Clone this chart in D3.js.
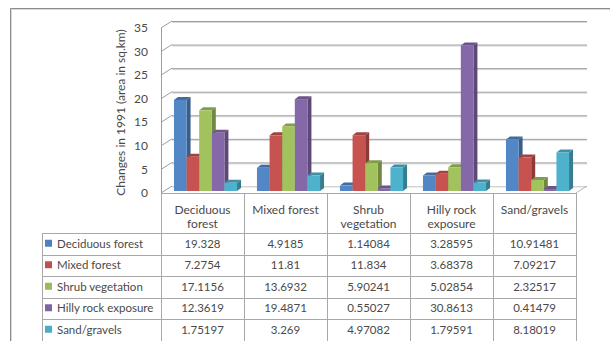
<!DOCTYPE html>
<html>
<head>
<meta charset="utf-8">
<script src="https://cdn.jsdelivr.net/npm/d3@7"></script>
<style>
  html, body { margin: 0; padding: 0; background: #fff; }
  svg { display: block; font-family: Lato, "Open Sans", sans-serif; }
</style>
</head>
<body>
<svg id="chart" width="610" height="341"></svg>
<script>
// Land-cover change categories (columns of the data table)
const categories = ["Deciduous forest", "Mixed forest", "Shrub vegetation", "Hilly rock exposure", "Sand/gravels"];
const categoryLines = [["Deciduous", "forest"], ["Mixed forest"], ["Shrub", "vegetation"], ["Hilly rock", "exposure"], ["Sand/gravels"]];

// Series (rows of the data table)
const seriesNames = ["Deciduous forest", "Mixed forest", "Shrub vegetation", "Hilly rock exposure", "Sand/gravels"];
const deciduousValues = [19.328, 4.9185, 1.14084, 3.28595, 10.91481];
const mixedValues = [7.2754, 11.81, 11.834, 3.68378, 7.09217];
const shrubValues = [17.1156, 13.6932, 5.90241, 5.02854, 2.32517];
const hillyValues = [12.3619, 19.4871, 0.55027, 30.8613, 0.41479];
const sandValues = [1.75197, 3.269, 4.97082, 1.79591, 8.18019];
const seriesValues = [deciduousValues, mixedValues, shrubValues, hillyValues, sandValues];
const seriesColors = ["#4F81BD", "#C0504D", "#9BBB59", "#8064A2", "#4BACC6"];

const yTicks = [0, 5, 10, 15, 20, 25, 30, 35];
const yTitle = "Changes in 1991 (area in sq.km)";

const svg = d3.select("#chart");
const textColor = "#4a4a4a";

// Geometry of the pseudo-3D plot box
const floorLeft = 161, floorRight = 576, floorFront = 193;
const wallDX = 11, wallDY = -7;          // front edge -> back wall offset
const barDX = 3, barDY = -2;             // front edge -> bar front face offset
const depthDX = 4, depthDY = -3;         // bar thickness

const y = d3.scaleLinear().domain([0, 35]).range([floorFront, floorFront - 165]);
const x0 = d3.scaleBand().domain(categories).range([floorLeft, floorRight]);
const gap = x0.bandwidth() * 0.12;
const x1 = d3.scaleBand().domain(seriesNames).range([gap, x0.bandwidth() - gap]);

// Outer chart border
svg.append("path").attr("d", "M10.5,341 V8.5 H610").attr("fill", "none").attr("stroke", "#8c8c8c");
svg.append("path").attr("d", "M11.5,341 V9.5 H610").attr("fill", "none").attr("stroke", "#d9d9d9");

// Gridlines on back wall plus the slanted side-wall ticks
const grid = svg.append("g");
yTicks.forEach(t => {
  const yb = y(t) + wallDY;
  const yf = y(t);
  grid.append("line").attr("x1", floorLeft + wallDX).attr("x2", floorRight + wallDX)
    .attr("y1", yb + 1.5).attr("y2", yb + 1.5).attr("stroke", t === 0 ? "#ececec" : "#dadada");
  grid.append("line").attr("x1", floorLeft + wallDX).attr("x2", floorRight + wallDX)
    .attr("y1", yb + 0.5).attr("y2", yb + 0.5).attr("stroke", t === 0 ? "#d4d4d4" : "#9d9d9d");
  grid.append("line").attr("x1", floorLeft).attr("y1", yf)
    .attr("x2", floorLeft + wallDX).attr("y2", yb).attr("stroke", "#9d9d9d");
});
// Left front edge and floor right edge
grid.append("line").attr("x1", floorLeft + 0.5).attr("x2", floorLeft + 0.5)
  .attr("y1", y(35)).attr("y2", floorFront).attr("stroke", "#9d9d9d");
grid.append("line").attr("x1", floorRight).attr("y1", floorFront)
  .attr("x2", floorRight + wallDX).attr("y2", floorFront + wallDY).attr("stroke", "#b5b5b5");

// Y tick labels
svg.append("g").selectAll("text").data(yTicks).join("text")
  .attr("x", 148).attr("y", d => y(d)).attr("dy", "0.35em")
  .attr("text-anchor", "end").attr("font-size", 12).attr("fill", textColor)
  .text(d => d);

// Y axis title
svg.append("text")
  .attr("transform", "translate(125," + (y(17.5) + 2) + ") rotate(-90)")
  .attr("text-anchor", "middle").attr("font-size", 12).attr("fill", textColor)
  .text(yTitle);

// 3D columns
const bars = svg.append("g");
const barData = [];
categories.forEach((c, ci) => {
  seriesNames.forEach((s, si) => {
    barData.push({ cat: c, series: s, value: seriesValues[si][ci], color: seriesColors[si] });
  });
});
barData.forEach(d => {
  const xl = x0(d.cat) + x1(d.series) + barDX;
  const w = x1.bandwidth();
  const yb = y(0) + barDY;
  const yt = y(d.value) + barDY;
  const base = d3.color(d.color);
  const g = bars.append("g");
  // side face
  g.append("path")
    .attr("d", `M${xl + w},${yb} L${xl + w + depthDX},${yb + depthDY} L${xl + w + depthDX},${yt + depthDY} L${xl + w},${yt} Z`)
    .attr("fill", base.darker(0.9));
  // top face
  g.append("path")
    .attr("d", `M${xl},${yt} L${xl + depthDX},${yt + depthDY} L${xl + w + depthDX},${yt + depthDY} L${xl + w},${yt} Z`)
    .attr("fill", base.darker(0.5));
  // front face
  g.append("rect").attr("x", xl).attr("y", yt).attr("width", w).attr("height", Math.max(0, yb - yt))
    .attr("fill", base.brighter(0.1));
});

// Data table
const table = svg.append("g");
const rowH = 21.5;
const headerBottom = 233;
const legendLeft = 42;
const lineColor = "#a8a8a8";
const colEdges = categories.map(c => x0(c)).concat([floorRight]);

// horizontal lines
table.append("line").attr("x1", floorLeft).attr("x2", floorRight).attr("y1", floorFront + 0.5).attr("y2", floorFront + 0.5).attr("stroke", lineColor);
for (let r = 0; r <= seriesNames.length; r++) {
  const yy = Math.round(headerBottom + r * rowH) + 0.5;
  table.append("line").attr("x1", legendLeft).attr("x2", floorRight).attr("y1", yy).attr("y2", yy).attr("stroke", lineColor);
}
// vertical lines
colEdges.forEach(xe => {
  const xx = Math.round(xe) + 0.5;
  table.append("line").attr("x1", xx).attr("x2", xx).attr("y1", floorFront).attr("y2", 341).attr("stroke", lineColor);
});
table.append("line").attr("x1", legendLeft + 0.5).attr("x2", legendLeft + 0.5).attr("y1", headerBottom).attr("y2", 341).attr("stroke", lineColor);

// header labels
categories.forEach((c, ci) => {
  const cx = x0(c) + x0.bandwidth() / 2;
  categoryLines[ci].forEach((ln, li) => {
    table.append("text").attr("x", cx).attr("y", 210 + li * 14).attr("dy", "0.35em")
      .attr("text-anchor", "middle").attr("font-size", 12).attr("fill", textColor).text(ln);
  });
});

// rows: legend key + values
seriesNames.forEach((s, si) => {
  const cy = headerBottom + si * rowH + rowH / 2;
  table.append("rect").attr("x", 45).attr("y", cy - 4).attr("width", 7).attr("height", 7).attr("fill", seriesColors[si]);
  table.append("text").attr("x", 57).attr("y", cy).attr("dy", "0.35em")
    .attr("font-size", 11.5).attr("fill", textColor).text(s);
  categories.forEach((c, ci) => {
    table.append("text").attr("x", x0(c) + x0.bandwidth() / 2).attr("y", cy).attr("dy", "0.35em")
      .attr("text-anchor", "middle").attr("font-size", 11.5).attr("fill", textColor)
      .text(String(seriesValues[si][ci]));
  });
});
</script>
</body>
</html>
